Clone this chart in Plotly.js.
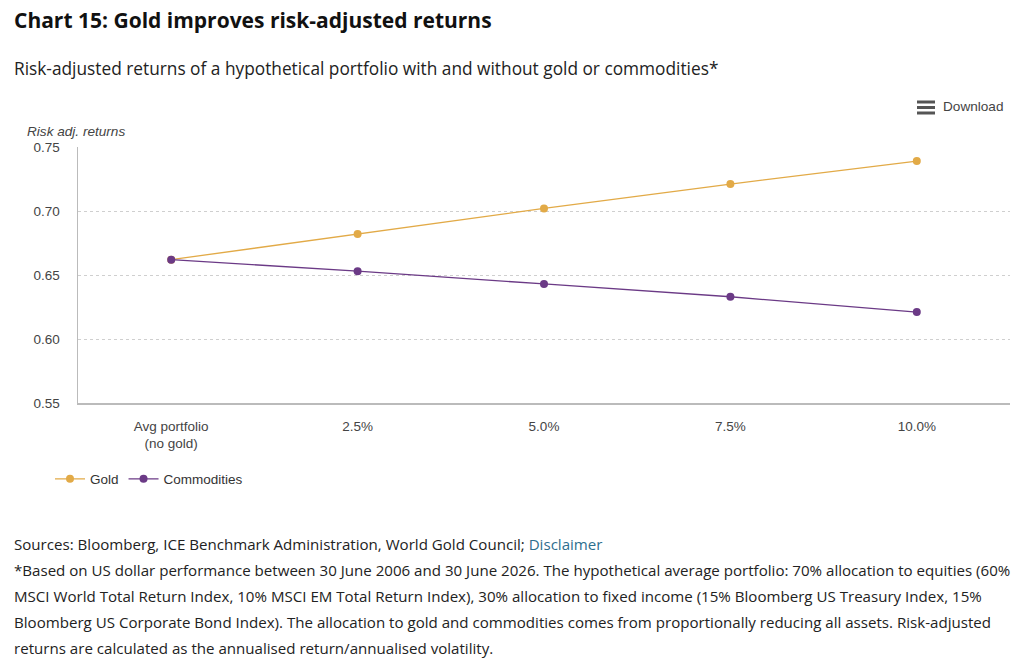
<!DOCTYPE html>
<html>
<head>
<meta charset="utf-8">
<script src="https://cdn.plot.ly/plotly-3.0.1.min.js"></script>
<style>
  html, body { margin: 0; padding: 0; background: #fff; }
  #chart { width: 1024px; height: 663px; }
</style>
</head>
<body>
<div id="chart"></div>
<script>
// ---- data ----
const categories = ["Avg portfolio<br>(no gold)", "2.5%", "5.0%", "7.5%", "10.0%"];
const goldValues = [0.662, 0.682, 0.702, 0.721, 0.739];
const commodityValues = [0.662, 0.653, 0.643, 0.633, 0.621];
const yTicks = [0.55, 0.60, 0.65, 0.70, 0.75];
const yTickLabels = ["0.55", "0.60", "0.65", "0.70", "0.75"];
const seriesNames = ["Gold", "Commodities"];

const goldColor = "#E2AA47";
const purpleColor = "#6B3A86";

const W = 1024, H = 663;
const L = 78, R = 1010, T = 147, B = 403;
function px(x) { return (x - L) / (R - L); }
function py(y) { return (B - y) / (B - T); }

const traces = [
  {
    x: [0, 1, 2, 3, 4], y: goldValues, name: seriesNames[0],
    type: "scatter", mode: "lines+markers",
    line: { color: goldColor, width: 1.3 },
    marker: { color: goldColor, size: 8 }
  },
  {
    x: [0, 1, 2, 3, 4], y: commodityValues, name: seriesNames[1],
    type: "scatter", mode: "lines+markers",
    line: { color: purpleColor, width: 1.3 },
    marker: { color: purpleColor, size: 8 }
  }
];

const sansUI = "Open Sans, Noto Sans, sans-serif";
const arial = "Liberation Sans, Arial, sans-serif";
const footFont = { family: sansUI, size: 15.1, color: "#222" };

const footLines = [
  'Sources: Bloomberg, ICE Benchmark Administration, World Gold Council; <span style="color:#2E6E8E">Disclaimer</span>',
  '*Based on US dollar performance between 30 June 2006 and 30 June 2026. The hypothetical average portfolio: 70% allocation to equities (60%',
  'MSCI World Total Return Index, 10% MSCI EM Total Return Index), 30% allocation to fixed income (15% Bloomberg US Treasury Index, 15%',
  'Bloomberg US Corporate Bond Index). The allocation to gold and commodities comes from proportionally reducing all assets. Risk-adjusted',
  'returns are calculated as the annualised return/annualised volatility.'
];
const footY = [544, 570, 596, 622, 648];

const annotations = [
  { text: "<b>Chart 15: Gold improves risk-adjusted returns</b>", x: px(12), y: py(20),
    font: { family: sansUI, size: 21, color: "#111" } },
  { text: "Risk-adjusted returns of a hypothetical portfolio with and without gold or commodities*", x: px(12), y: py(68),
    font: { family: sansUI, size: 17.3, color: "#222" } },
  { text: "<i>Risk adj. returns</i>", x: px(25), y: py(131),
    font: { family: arial, size: 13.6, color: "#444" } },
  { text: "Download", x: px(941), y: py(106),
    font: { family: arial, size: 13.6, color: "#444" } }
].map(a => Object.assign({ xref: "paper", yref: "paper", xanchor: "left", yanchor: "middle", showarrow: false }, a));

footLines.forEach((t, i) => {
  annotations.push({ text: t, x: px(12), y: py(footY[i]), xref: "paper", yref: "paper",
    xanchor: "left", yanchor: "middle", showarrow: false, font: footFont });
});

const shapes = [102, 107.5, 113].map(yy => ({
  type: "line", xref: "paper", yref: "paper",
  x0: px(917), x1: px(935), y0: py(yy), y1: py(yy),
  line: { color: "#555", width: 3 }
}));

const layout = {
  width: W, height: H,
  margin: { l: L, r: W - R, t: T, b: H - B, pad: 0 },
  paper_bgcolor: "#fff", plot_bgcolor: "#fff",
  font: { family: arial, size: 12, color: "#444" },
  showlegend: true,
  legend: {
    orientation: "h", x: px(50), y: py(479), xanchor: "left", yanchor: "middle",
    font: { family: arial, size: 13.5, color: "#333" },
    itemwidth: 30, tracegroupgap: 0, bgcolor: "rgba(0,0,0,0)"
  },
  xaxis: {
    type: "linear", range: [-0.5, 4.5], tickmode: "array",
    tickvals: [0, 1, 2, 3, 4], ticktext: categories,
    showgrid: false, zeroline: false, showline: true, linecolor: "#bbb", linewidth: 1.5,
    ticks: "", ticklabelstandoff: 10,
    tickfont: { family: arial, size: 13.5, color: "#444" },
    fixedrange: true
  },
  yaxis: {
    range: [0.55, 0.75], tickmode: "array", tickvals: yTicks, ticktext: yTickLabels,
    showgrid: true, gridcolor: "#cfcfcf", griddash: "dot", gridwidth: 1,
    zeroline: false, showline: true, linecolor: "#bbb", linewidth: 1.5,
    ticks: "", ticklabelstandoff: 14,
    tickfont: { family: arial, size: 13.5, color: "#444" },
    fixedrange: true
  },
  annotations: annotations,
  shapes: shapes
};

Plotly.newPlot("chart", traces, layout, { displayModeBar: false, staticPlot: true });
</script>
</body>
</html>
